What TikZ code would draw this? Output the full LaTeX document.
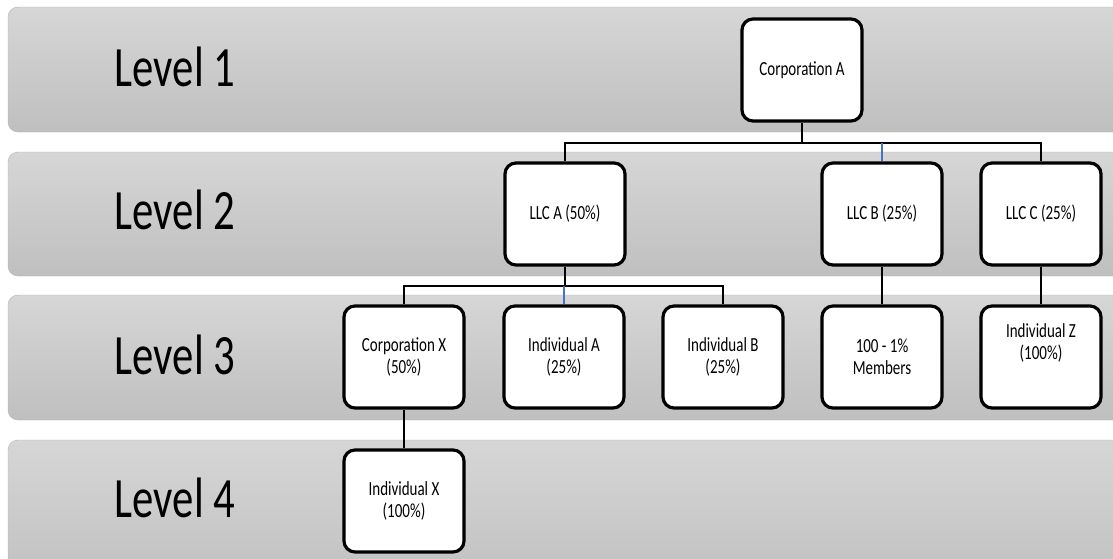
\documentclass[tikz,border=0pt]{standalone}
\usepackage{fontspec}
\setmainfont[FakeStretch=0.75]{Carlito}
\definecolor{linkblue}{RGB}{68,114,196}

\begin{document}
\begin{tikzpicture}[x=1pt,y=-1pt]
            \tikzstyle{band}=[draw=black!30, rounded corners=10pt, top color=black!16, bottom color=black!25]
            \tikzstyle{level}=[font=\fontsize{57}{60}\selectfont, inner sep=0pt]
            \tikzstyle{entity}=[draw, line width=3.2pt, rounded corners=11pt, fill=white, minimum width=120pt, minimum height=102pt, align=center, inner sep=0pt, font=\fontsize{20}{22}\selectfont]
            \tikzstyle{link}=[line width=2.8pt]
            \tikzstyle{bluelink}=[line width=2.8pt, color=linkblue]
            \useasboundingbox (0,0) rectangle (1113,558);
            \clip (0,0) rectangle (1113,558);
            \draw [band] (8,7) rectangle (1140,132);
            \draw [band] (8,152) rectangle (1140,276);
            \draw [band] (8,295) rectangle (1140,420);
            \draw [band] (8,440) rectangle (1140,590);
            \node [level] (lvl1) at (175,67) {Level 1};
            \node [level] (lvl2) at (175,210) {Level 2};
            \node [level] (lvl3) at (175,355) {Level 3};
            \node [level] (lvl4) at (175,498) {Level 4};
            \coordinate (bus1) at (0,143);
            \coordinate (bus2) at (0,286);
            \node [entity] (corpA) at (802,70) {Corporation A};
            \node [entity] (llcA) at (565,214) {LLC A (50\%)};
            \node [entity] (llcB) at (882,214) {LLC B (25\%)};
            \node [entity] (llcC) at (1041,214) {LLC C (25\%)};
            \node [entity] (corpX) at (404,357) {Corporation X\\(50\%)};
            \node [entity] (indA) at (564,357) {Individual A\\(25\%)};
            \node [entity] (indB) at (723,357) {Individual B\\(25\%)};
            \node [entity] (members) at (882,357) {100 - 1\%\\Members};
            \node [entity] (indZ) at (1041,357) {Individual Z\\(100\%)\\[8pt]\mbox{}};
            \node [entity] (indX) at (404,501) {Individual X\\(100\%)};
            \draw [link] (corpA.south) -- (corpA.south |- bus1);
            \draw [link] (llcA.north) -- (llcA.north |- bus1) -- (llcC.north |- bus1) -- (llcC.north);
            \draw [bluelink] (llcB.north) -- (llcB.north |- bus1);
            \draw [link] (llcA.south) -- (llcA.south |- bus2);
            \draw [link] (corpX.north) -- (corpX.north |- bus2) -- (indB.north |- bus2) -- (indB.north);
            \draw [bluelink] (indA.north) -- (indA.north |- bus2);
            \draw [link] (llcB.south) -- (members.north);
            \draw [link] (llcC.south) -- (indZ.north);
            \draw [link] (corpX.south) -- (indX.north);
\end{tikzpicture}
\end{document}
